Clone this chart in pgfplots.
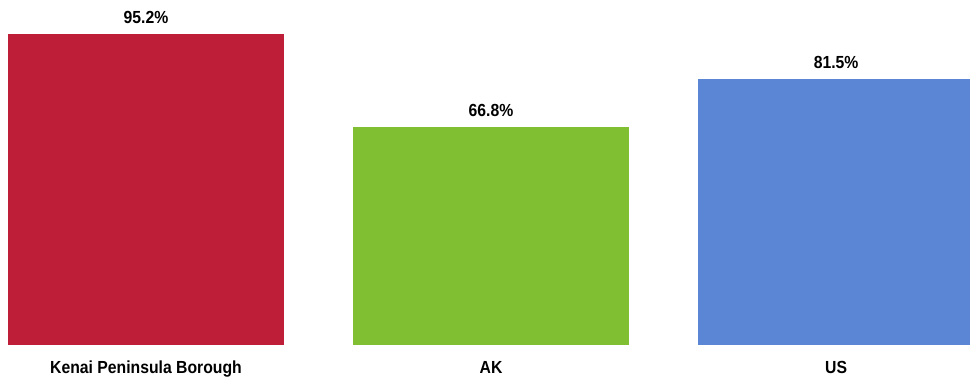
\documentclass[border=0pt]{standalone}
\usepackage{pgfplots}
\pgfplotsset{compat=1.18}
\usepackage{fontspec}
\setmainfont{Liberation Sans}[FakeStretch=0.9]
\definecolor{cred}{HTML}{BE1E37}
\definecolor{cgreen}{HTML}{80BE32}
\definecolor{cblue}{HTML}{5B86D6}
\begin{document}
\begin{tikzpicture}
\begin{axis}[
  width=970pt, height=381pt, scale only axis,
  xmin=-0.423, xmax=2.388,
  ymin=-11, ymax=105.6,
  axis line style={draw=none},
  tick style={draw=none},
  ytick=\empty,
  xtick={0,1,2},
  xticklabels={Kenai Peninsula Borough, AK, US},
  xticklabel style={anchor=base, yshift=12pt, font=\fontsize{17.5}{20}\selectfont\bfseries},
  ybar, bar width=276pt, bar shift=0pt,
  /pgf/number format/assume math mode=true,
  nodes near coords={\pgfmathprintnumber[fixed,precision=1,fixed zerofill,assume math mode=true]{\pgfplotspointmeta}\%},
  nodes near coords style={font=\fontsize{17.5}{20}\selectfont\bfseries, black, anchor=base, yshift=10pt},
  clip=true,
]
\addplot[fill=cred, draw=none] coordinates {(0,95.2)};
\addplot[fill=cgreen, draw=none] coordinates {(1,66.8)};
\addplot[fill=cblue, draw=none] coordinates {(2,81.5)};
\end{axis}
\pgfresetboundingbox
\path (current axis.south west) rectangle (current axis.north east);
\end{tikzpicture}
\end{document}
